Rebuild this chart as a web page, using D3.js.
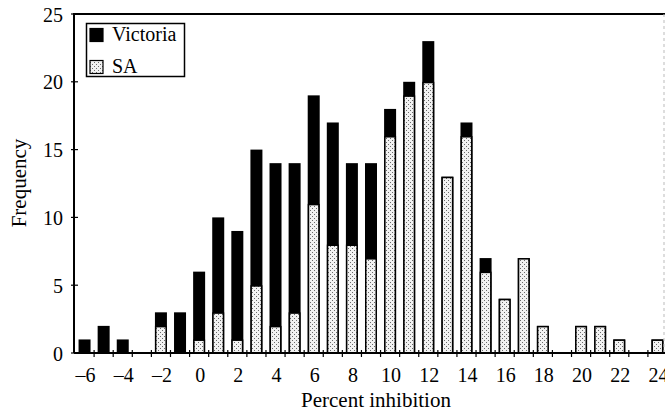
<!DOCTYPE html>
<html>
<head>
<meta charset="utf-8">
<script src="https://cdn.jsdelivr.net/npm/d3@7"></script>
<style>
  body { margin: 0; background: #fff; }
  text { font-family: "Liberation Serif", "Times New Roman", serif; fill: #000; }
</style>
</head>
<body>
<div id="chart"></div>
<script>
// bins (percent inhibition) and counts per state
var bins = d3.range(-6, 25);
var saCounts = [0, 0, 0, 0, 2, 0, 1, 3, 1, 5, 2, 3, 11, 8, 8, 7, 16, 19, 20, 13, 16, 6, 4, 7, 2, 0, 2, 2, 1, 0, 1];
var vicCounts = [1, 2, 1, 0, 1, 3, 5, 7, 8, 10, 12, 11, 8, 9, 6, 7, 2, 1, 3, 0, 1, 1, 0, 0, 0, 0, 0, 0, 0, 0, 0];
var xTickLabels = d3.range(-6, 25, 2);
var yTickValues = [0, 5, 10, 15, 20, 25];
var seriesNames = ['Victoria', 'SA'];

var data = bins.map(function(b, i) {
  return { bin: b, sa: saCounts[i], vic: vicCounts[i] };
});

var w = 665, h = 414;
var plotLeft = 75, plotRight = 667, plotTop = 14, plotBottom = 353;
var barW = 12;

var svg = d3.select('#chart').append('svg')
  .attr('width', w)
  .attr('height', h);

// stipple fill for SA
var pat = svg.append('defs').append('pattern')
  .attr('id', 'dots')
  .attr('patternUnits', 'userSpaceOnUse')
  .attr('width', 4)
  .attr('height', 4);
pat.append('rect').attr('width', 4).attr('height', 4).attr('fill', '#f2f2f2');
pat.append('rect').attr('x', 0).attr('y', 0).attr('width', 1).attr('height', 1).attr('fill', '#6a6a6a');
pat.append('rect').attr('x', 2).attr('y', 2).attr('width', 1).attr('height', 1).attr('fill', '#6a6a6a');

var x = d3.scaleLinear()
  .domain([-6.5, 24.5])
  .range([plotLeft, plotRight]);

var y = d3.scaleLinear()
  .domain([0, 25])
  .range([plotBottom, plotTop]);

// total bars (Victoria on top) in black
svg.selectAll('.total')
  .data(data.filter(d => d.sa + d.vic > 0))
  .enter()
  .append('rect')
    .attr('class', 'total')
    .attr('x', d => x(d.bin) - barW / 2)
    .attr('y', d => y(d.sa + d.vic))
    .attr('width', barW)
    .attr('height', d => y(0) - y(d.sa + d.vic))
    .attr('fill', '#000');

// SA part
svg.selectAll('.sa')
  .data(data.filter(d => d.sa > 0))
  .enter()
  .append('rect')
    .attr('class', 'sa')
    .attr('x', d => x(d.bin) - barW / 2 + 0.75)
    .attr('y', d => y(d.sa) + 0.75)
    .attr('width', barW - 1.5)
    .attr('height', d => y(0) - y(d.sa) - 0.75)
    .attr('fill', 'url(#dots)')
    .attr('stroke', '#000')
    .attr('stroke-width', 1.5);

// frame
svg.append('line').attr('x1', plotLeft - 1).attr('x2', 665).attr('y1', plotTop).attr('y2', plotTop)
  .attr('stroke', '#000').attr('stroke-width', 2);
svg.append('line').attr('x1', 664).attr('x2', 664).attr('y1', plotTop).attr('y2', plotBottom)
  .attr('stroke', '#bbb').attr('stroke-width', 1).attr('stroke-dasharray', '3,3');
svg.append('line').attr('x1', plotLeft - 1).attr('x2', plotLeft - 1).attr('y1', plotTop - 1).attr('y2', plotBottom)
  .attr('stroke', '#000').attr('stroke-width', 2);
svg.append('line').attr('x1', plotLeft - 1).attr('x2', 665).attr('y1', plotBottom).attr('y2', plotBottom)
  .attr('stroke', '#000').attr('stroke-width', 2);

// x ticks at bin edges
svg.selectAll('.xtick')
  .data(d3.range(-5.5, 25, 1))
  .enter()
  .append('line')
    .attr('x1', d => x(d)).attr('x2', d => x(d))
    .attr('y1', plotBottom - 3).attr('y2', plotBottom + 4)
    .attr('stroke', '#000').attr('stroke-width', 1.2);

svg.selectAll('.xlab')
  .data(xTickLabels)
  .enter()
  .append('text')
    .attr('x', d => x(d) + 1)
    .attr('y', 382)
    .attr('text-anchor', 'middle')
    .attr('font-size', 20)
    .text(d => d < 0 ? '\u2013' + Math.abs(d) : d);

// y ticks
svg.selectAll('.ytick')
  .data(yTickValues)
  .enter()
  .append('line')
    .attr('x1', plotLeft - 4).attr('x2', plotLeft + 3)
    .attr('y1', d => y(d)).attr('y2', d => y(d))
    .attr('stroke', '#000').attr('stroke-width', 1.2);

svg.selectAll('.ylab')
  .data(yTickValues)
  .enter()
  .append('text')
    .attr('x', 63)
    .attr('y', d => y(d) + 7.5)
    .attr('text-anchor', 'end')
    .attr('font-size', 20)
    .text(d => d);

// axis titles
svg.append('text')
  .attr('x', 376)
  .attr('y', 407)
  .attr('text-anchor', 'middle')
  .attr('font-size', 21)
  .text('Percent inhibition');

svg.append('text')
  .attr('transform', 'translate(26,183) rotate(-90)')
  .attr('text-anchor', 'middle')
  .attr('font-size', 21)
  .text('Frequency');

// legend
var legend = svg.append('g');
legend.append('rect')
  .attr('x', 86.5).attr('y', 23.5).attr('width', 98).attr('height', 53)
  .attr('fill', '#fff').attr('stroke', '#000').attr('stroke-width', 1.5);

legend.selectAll('.swatch')
  .data(seriesNames)
  .enter()
  .append('rect')
    .attr('x', 90)
    .attr('y', (d, i) => 28.5 + i * 32)
    .attr('width', 13)
    .attr('height', 13)
    .attr('fill', d => d == 'Victoria' ? '#000' : 'url(#dots)')
    .attr('stroke', '#000')
    .attr('stroke-width', 1.2);

legend.selectAll('.ltext')
  .data(seriesNames)
  .enter()
  .append('text')
    .attr('x', 112)
    .attr('y', (d, i) => 41 + i * 32)
    .attr('font-size', 20)
    .text(d => d);
</script>
</body>
</html>
